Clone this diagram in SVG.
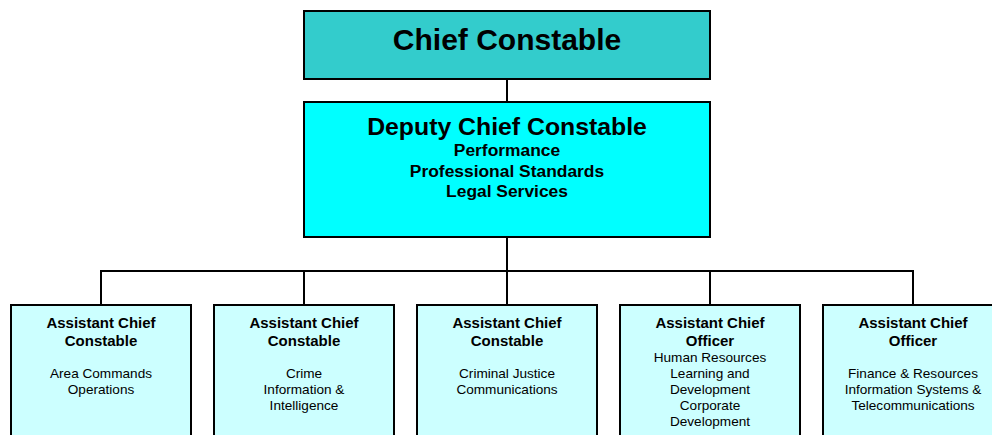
<svg xmlns="http://www.w3.org/2000/svg" width="992" height="435" viewBox="0 0 992 435">
<style>
text{font-family:"Liberation Sans",Arial,sans-serif;fill:#000;text-anchor:middle}
.b{font-weight:bold}
.box{stroke:#000;stroke-width:2}
.acc{fill:#CCFFFF}
.t1{font-size:15px;font-weight:bold}
.t2{font-size:13.6px}
.conn{stroke:#000;stroke-width:2;fill:none}
</style>
<rect width="992" height="435" fill="#fff"/>
<g id="connectors">
<line class="conn" x1="507" y1="79" x2="507" y2="102"/>
<line class="conn" x1="507" y1="237" x2="507" y2="271"/>
<polyline class="conn" points="101,305 101,271 913,271 913,305"/>
<line class="conn" x1="304" y1="271" x2="304" y2="305"/>
<line class="conn" x1="710" y1="271" x2="710" y2="305"/>
<line class="conn" x1="507" y1="271" x2="507" y2="305"/>
</g>
<g id="chief">
<rect class="box" x="304" y="11" width="406" height="68" fill="#33CCCC"/>
<text class="b" x="507" y="50" font-size="30">Chief Constable</text>
</g>
<g id="deputy">
<rect class="box" x="304" y="102" width="406" height="135" fill="#00FFFF"/>
<text class="b" x="507" y="135" font-size="24.8">Deputy Chief Constable</text>
<text class="b" x="507" y="156" font-size="17.4">Performance</text>
<text class="b" x="507" y="177" font-size="17.4">Professional Standards</text>
<text class="b" x="507" y="197" font-size="17.4">Legal Services</text>
</g>
<g id="acc1">
<rect class="box acc" x="11" y="305" width="180" height="140"/>
<text class="t1" x="101" y="328">Assistant Chief</text>
<text class="t1" x="101" y="346">Constable</text>
<text class="t2" x="101" y="378">Area Commands</text>
<text class="t2" x="101" y="394">Operations</text>
</g>
<g id="acc2">
<rect class="box acc" x="214" y="305" width="180" height="140"/>
<text class="t1" x="304" y="328">Assistant Chief</text>
<text class="t1" x="304" y="346">Constable</text>
<text class="t2" x="304" y="378">Crime</text>
<text class="t2" x="304" y="394">Information &amp;</text>
<text class="t2" x="304" y="410">Intelligence</text>
</g>
<g id="acc3">
<rect class="box acc" x="417" y="305" width="180" height="140"/>
<text class="t1" x="507" y="328">Assistant Chief</text>
<text class="t1" x="507" y="346">Constable</text>
<text class="t2" x="507" y="378">Criminal Justice</text>
<text class="t2" x="507" y="394">Communications</text>
</g>
<g id="aco1">
<rect class="box acc" x="620" y="305" width="180" height="140"/>
<text class="t1" x="710" y="328">Assistant Chief</text>
<text class="t1" x="710" y="346">Officer</text>
<text class="t2" x="710" y="362">Human Resources</text>
<text class="t2" x="710" y="378">Learning and</text>
<text class="t2" x="710" y="394">Development</text>
<text class="t2" x="710" y="410">Corporate</text>
<text class="t2" x="710" y="426">Development</text>
</g>
<g id="aco2">
<rect class="box acc" x="823" y="305" width="180" height="140"/>
<text class="t1" x="913" y="328">Assistant Chief</text>
<text class="t1" x="913" y="346">Officer</text>
<text class="t2" x="913" y="378">Finance &amp; Resources</text>
<text class="t2" x="913" y="394">Information Systems &amp;</text>
<text class="t2" x="913" y="410">Telecommunications</text>
</g>
</svg>
